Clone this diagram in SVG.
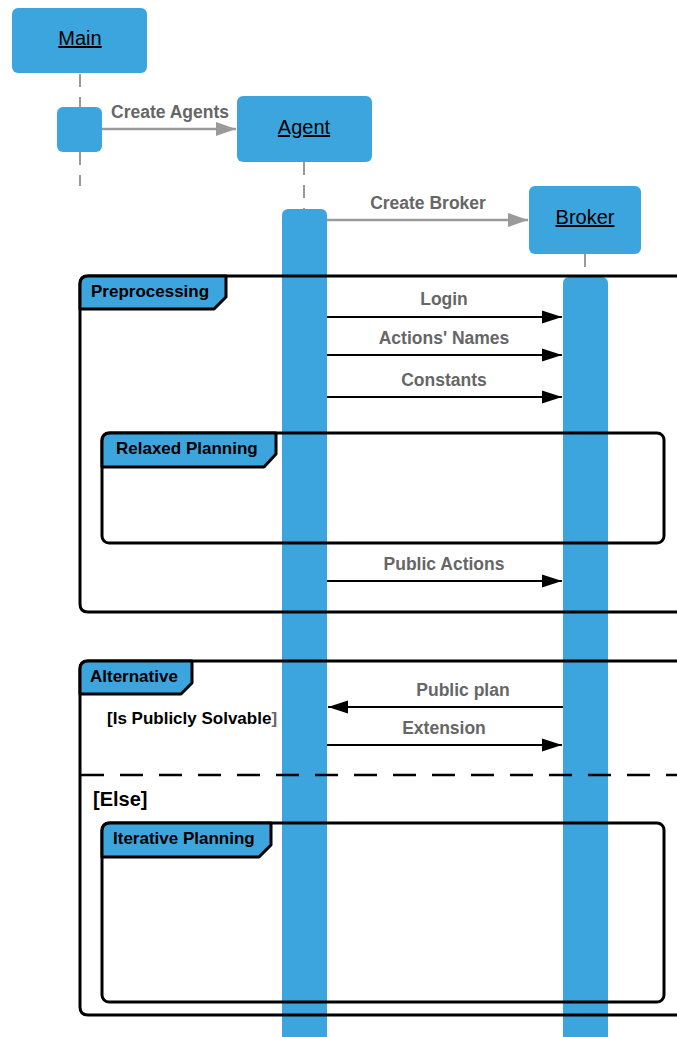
<svg xmlns="http://www.w3.org/2000/svg" width="677" height="1037" viewBox="0 0 677 1037">
<style>
.box{fill:#3DA5DE;}
.name{font-family:"Liberation Sans",Arial,sans-serif;font-size:20px;fill:#000;text-decoration:underline;text-anchor:middle;}
.life{stroke:#9a9a9a;stroke-width:2;stroke-dasharray:13 10;fill:none;}
.glbl{font-family:"Liberation Sans",Arial,sans-serif;font-size:17.5px;font-weight:bold;fill:#666;text-anchor:middle;}
.msg{stroke:#000;stroke-width:2;fill:none;}
.gmsg{stroke:#9a9a9a;stroke-width:2.5;fill:none;}
.frame{fill:none;stroke:#000;stroke-width:3;}
.tab{fill:#3DA5DE;stroke:#000;stroke-width:3;stroke-linejoin:round;}
.ftxt{font-family:"Liberation Sans",Arial,sans-serif;font-size:17px;font-weight:bold;fill:#000;}
.else{font-size:20px;}
</style>
<defs>
<marker id="ab" markerWidth="20" markerHeight="14" refX="20" refY="7" orient="auto" markerUnits="userSpaceOnUse"><path d="M0,0.5 L20,7 L0,13.5 Z" fill="#000"/></marker>
<marker id="ag" markerWidth="20" markerHeight="14" refX="20" refY="7" orient="auto" markerUnits="userSpaceOnUse"><path d="M0,0 L20,7 L0,14 Z" fill="#9a9a9a"/></marker>
</defs>

<g id="lifelines">
<line class="life" x1="80" y1="74" x2="80" y2="107"/>
<line class="life" x1="80" y1="152" x2="80" y2="186"/>
<line class="life" x1="304" y1="162" x2="304" y2="209"/>
<line class="life" x1="585" y1="254" x2="585" y2="277"/>
</g>

<g id="main"><rect class="box" x="12" y="8" width="135" height="65" rx="6"/><text class="name" x="80" y="45">Main</text></g>
<g id="main-activation"><rect class="box" x="57" y="107" width="45" height="45" rx="6"/></g>
<g id="agent"><rect class="box" x="237" y="96" width="135" height="66" rx="6"/><text class="name" x="304" y="134">Agent</text></g>
<g id="agent-activation"><rect class="box" x="282" y="209" width="45" height="840" rx="6"/></g>
<g id="broker"><rect class="box" x="529" y="186" width="112" height="68" rx="6"/><text class="name" x="585" y="224">Broker</text></g>
<g id="broker-activation"><rect class="box" x="563" y="277" width="45" height="780" rx="6"/></g>

<g id="frame-preprocessing">
<path class="frame" d="M700,276 L88,276 Q80,276 80,284 L80,604 Q80,612 88,612 L700,612"/>
<path class="tab" d="M80,309 L80,284 Q80,276 88,276 L226,276 L226,297 L214,309 Z"/>
<text class="ftxt" x="91" y="297">Preprocessing</text>
</g>
<g id="frame-relaxed">
<rect class="frame" x="102" y="433" width="562" height="110" rx="7"/>
<path class="tab" d="M102,467 L102,441 Q102,433 110,433 L276,433 L276,454 L264,467 Z"/>
<text class="ftxt" x="116" y="454">Relaxed Planning</text>
</g>
<g id="frame-alternative">
<path class="frame" d="M700,661 L88,661 Q80,661 80,669 L80,1007 Q80,1015 88,1015 L700,1015" stroke-width="2.5"/>
<path class="tab" d="M80,694 L80,669 Q80,661 88,661 L192,661 L192,683 L181,694 Z" stroke-width="2.5"/>
<text class="ftxt" x="90" y="682">Alternative</text>
<text class="ftxt" x="107" y="724">[Is Publicly Solvable<tspan fill="#666">]</tspan></text>
<line x1="81" y1="775" x2="677" y2="775" stroke="#000" stroke-width="2.5" stroke-dasharray="23 16"/>
<text class="ftxt else" x="93" y="806">[Else]</text>
</g>
<g id="frame-iterative">
<rect class="frame" x="102" y="823" width="562" height="179" rx="7"/>
<path class="tab" d="M102,857 L102,831 Q102,823 110,823 L271,823 L271,845 L259,857 Z"/>
<text class="ftxt" x="113" y="844">Iterative Planning</text>
</g>

<g id="connectors">
<line class="gmsg" x1="102" y1="129" x2="236" y2="129" marker-end="url(#ag)"/>
<text class="glbl" x="170" y="118">Create Agents</text>
<line class="gmsg" x1="327" y1="220" x2="528" y2="220" marker-end="url(#ag)"/>
<text class="glbl" x="428" y="209">Create Broker</text>
<line class="msg" x1="327" y1="317" x2="562" y2="317" marker-end="url(#ab)"/>
<text class="glbl" x="444" y="305">Login</text>
<line class="msg" x1="327" y1="355" x2="562" y2="355" marker-end="url(#ab)"/>
<text class="glbl" x="444" y="344">Actions' Names</text>
<line class="msg" x1="327" y1="397" x2="562" y2="397" marker-end="url(#ab)"/>
<text class="glbl" x="444" y="386">Constants</text>
<line class="msg" x1="327" y1="581" x2="562" y2="581" marker-end="url(#ab)"/>
<text class="glbl" x="444" y="570">Public Actions</text>
<line class="msg" x1="563" y1="707" x2="328" y2="707" marker-end="url(#ab)"/>
<text class="glbl" x="463" y="696">Public plan</text>
<line class="msg" x1="327" y1="745" x2="562" y2="745" marker-end="url(#ab)"/>
<text class="glbl" x="444" y="734">Extension</text>
</g>
</svg>
